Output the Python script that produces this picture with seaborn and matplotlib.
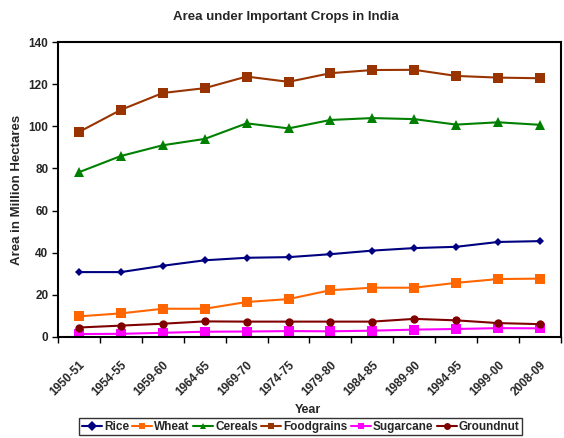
import matplotlib
matplotlib.use("Agg")
import matplotlib.pyplot as plt
import matplotlib.transforms as mtransforms
import seaborn as sns
import pandas as pd
from matplotlib.ticker import FixedLocator

years = ["1950-51", "1954-55", "1959-60", "1964-65", "1969-70", "1974-75",
         "1979-80", "1984-85", "1989-90", "1994-95", "1999-00", "2008-09"]
rice = [30.8, 30.8, 33.8, 36.4, 37.6, 37.9, 39.3, 41.0, 42.2, 42.8, 45.1, 45.5]
wheat = [9.8, 11.2, 13.4, 13.4, 16.6, 18.0, 22.2, 23.4, 23.4, 25.7, 27.5, 27.7]
cereals = [78.2, 85.9, 91.0, 94.0, 101.4, 99.0, 103.0, 103.9, 103.4, 100.8, 101.9, 100.7]
foodgrains = [97.3, 107.8, 115.8, 118.1, 123.6, 121.1, 125.2, 126.7, 126.8, 123.9, 123.1, 122.8]
sugarcane = [1.4, 1.5, 2.0, 2.5, 2.6, 2.8, 2.7, 3.0, 3.5, 3.8, 4.2, 4.1]
groundnut = [4.5, 5.4, 6.3, 7.4, 7.3, 7.3, 7.3, 7.3, 8.6, 7.9, 6.6, 6.1]

series_names = ["Rice", "Wheat", "Cereals", "Foodgrains", "Sugarcane", "Groundnut"]
series_vals = [rice, wheat, cereals, foodgrains, sugarcane, groundnut]

rows = []
for name, vals in zip(series_names, series_vals):
    for i, v in enumerate(vals):
        rows.append({"idx": i, "Year": years[i], "Crop": name, "Area": v})
df = pd.DataFrame(rows)

sns.set_theme(style="white")
plt.rcParams['font.family'] = ['Liberation Sans', 'DejaVu Sans']

palette = {"Rice": "#000080", "Wheat": "#FF6600", "Cereals": "#008000",
           "Foodgrains": "#993300", "Sugarcane": "#FF00FF", "Groundnut": "#800000"}
markers = {"Rice": "D", "Wheat": "s", "Cereals": "^", "Foodgrains": "s",
           "Sugarcane": "s", "Groundnut": "o"}
msizes = {"Rice": 4.5, "Wheat": 6.5, "Cereals": 6.5, "Foodgrains": 6.5,
          "Sugarcane": 6.5, "Groundnut": 6}

fig = plt.figure(figsize=(5.64, 4.38), dpi=100)
ax = fig.add_axes([0.1028, 0.2306, 0.8919, 0.6735])

sns.lineplot(data=df, x="idx", y="Area", hue="Crop", style="Crop",
             palette=palette, markers=markers, dashes=False,
             hue_order=series_names, style_order=series_names,
             linewidth=1.5, markeredgewidth=0, ax=ax, legend=True)

for line, name in zip(ax.get_lines(), series_names):
    line.set_markersize(msizes[name])

ax.set_xlim(-0.5, 11.5)
ax.set_ylim(0, 140)
ax.set_yticks(range(0, 141, 20))
ax.set_xticks(range(len(years)))
ax.set_xticklabels(years, rotation=45, ha="right", rotation_mode="anchor",
                   fontsize=8.5, fontweight="bold")
offset = mtransforms.ScaledTranslation(-5 / 100, 0, fig.dpi_scale_trans)
for lab in ax.get_xticklabels():
    lab.set_transform(lab.get_transform() + offset)
ax.xaxis.set_minor_locator(FixedLocator([i - 0.5 for i in range(len(years) + 1)]))
ax.tick_params(axis="x", which="major", length=0, pad=16)
ax.tick_params(axis="x", which="minor", length=4, width=1, direction="out", color="black", bottom=True)
ax.tick_params(axis="y", which="major", length=4, width=1, direction="out", color="black", left=True,
               labelsize=8.5, pad=3)
for lab in ax.get_yticklabels():
    lab.set_fontweight("bold")

for sp in ax.spines.values():
    sp.set_visible(True)
    sp.set_color("black")
    sp.set_linewidth(1.5)

ax.set_xlabel("Year", fontsize=9, fontweight="bold")
ax.xaxis.set_label_coords(0.497, -0.247)
ax.xaxis.label.set_va("center")
ax.set_ylabel("Area in Million Hectares", fontsize=9.5, fontweight="bold")
ax.yaxis.set_label_coords(-0.0815, 0.5)
ax.yaxis.label.set_va("center")
fig.text(0.506, 0.962, "Area under Important Crops in India", ha="center", va="center",
         fontsize=9.5, fontweight="bold")

handles, labels = ax.get_legend_handles_labels()
ax.get_legend().remove()
leg = fig.legend(handles, labels, loc="upper center", bbox_to_anchor=(0.533, 0.045),
                 ncol=6, frameon=True, fancybox=False, edgecolor="black",
                 prop={"size": 8.5, "weight": "bold"}, handlelength=1.7, handletextpad=0.2,
                 columnspacing=0.25, borderpad=0.2, borderaxespad=0)
leg.get_frame().set_linewidth(1.0)
for h in leg.legend_handles:
    try:
        h.set_markersize(5)
    except Exception:
        pass

fig.savefig("out.png", dpi=100)
